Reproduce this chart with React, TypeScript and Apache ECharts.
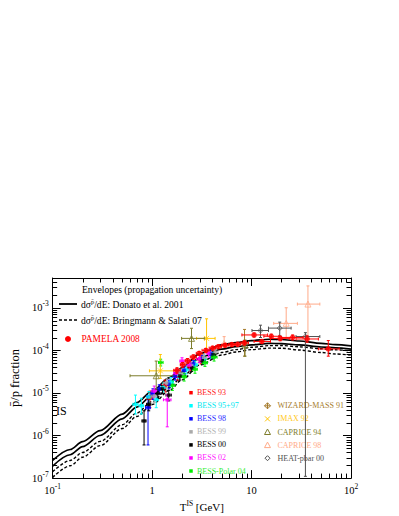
import React, { useEffect, useRef } from "react";
import * as echarts from "echarts";

const FONT = "'Liberation Serif', 'Times New Roman', Times, serif";

// ---- theoretical envelopes ----
const CURVE_ENERGY = [0.1, 0.15, 0.2, 0.3, 0.5, 0.7, 1, 1.5, 2, 3, 5, 7, 10, 15, 20, 30, 50, 70, 100];
const DONATO_UPPER = [2.6e-7, 4.7e-7, 7.2e-7, 1.3e-6, 3.17e-6, 5.9e-6, 1.1e-5, 2.3e-5, 3.9e-5, 8.3e-5, 1.35e-4, 1.53e-4, 1.69e-4, 1.82e-4, 1.8e-4, 1.66e-4, 1.46e-4, 1.36e-4, 1.27e-4];
const DONATO_LOWER = [1.92e-7, 3.53e-7, 5.47e-7, 1.0e-6, 2.47e-6, 4.66e-6, 8.76e-6, 1.83e-5, 3.1e-5, 6.6e-5, 1.07e-4, 1.22e-4, 1.35e-4, 1.46e-4, 1.44e-4, 1.34e-4, 1.2e-4, 1.14e-4, 1.07e-4];
const BRINGMANN_UPPER = [1.42e-7, 2.59e-7, 4.0e-7, 7.28e-7, 1.79e-6, 3.36e-6, 6.3e-6, 1.36e-5, 2.38e-5, 5.26e-5, 8.9e-5, 1.04e-4, 1.18e-4, 1.29e-4, 1.3e-4, 1.21e-4, 1.09e-4, 1.03e-4, 9.7e-5];
const BRINGMANN_LOWER = [1.04e-7, 1.95e-7, 3.1e-7, 5.79e-7, 1.46e-6, 2.8e-6, 5.34e-6, 1.16e-5, 2.03e-5, 4.52e-5, 7.76e-5, 9.18e-5, 1.04e-4, 1.13e-4, 1.12e-4, 1.02e-4, 8.9e-5, 8.2e-5, 7.7e-5];

// ---- data: [T (GeV), ratio, ratio low, ratio high, T low, T high] ----
type Pt = [number, number, number, number, number, number];

const PAMELA_2008: Pt[] = [
  [1.78, 3.4e-5, 2.9e-5, 3.9e-5, 1.65, 1.92],
  [2.03, 4.6e-5, 4.0e-5, 5.2e-5, 1.92, 2.15],
  [2.27, 5.7e-5, 5.0e-5, 6.4e-5, 2.15, 2.42],
  [2.6, 7.0e-5, 6.2e-5, 7.8e-5, 2.42, 2.78],
  [2.97, 8.5e-5, 7.6e-5, 9.4e-5, 2.78, 3.18],
  [3.47, 1.0e-4, 9.0e-5, 1.1e-4, 3.18, 3.75],
  [4.06, 1.13e-4, 1.02e-4, 1.24e-4, 3.75, 4.35],
  [4.64, 1.22e-4, 1.1e-4, 1.34e-4, 4.35, 5.0],
  [5.42, 1.32e-4, 1.19e-4, 1.45e-4, 5.0, 5.9],
  [6.34, 1.37e-4, 1.23e-4, 1.51e-4, 5.9, 6.8],
  [7.25, 1.39e-4, 1.25e-4, 1.54e-4, 6.8, 7.8],
  [8.47, 1.5e-4, 1.34e-4, 1.67e-4, 7.8, 9.3],
  [10.6, 2.3e-4, 2.05e-4, 2.55e-4, 8.0, 14.5],
  [12.7, 1.62e-4, 1.45e-4, 1.8e-4, 10.6, 15.5],
  [15.8, 2.14e-4, 1.9e-4, 2.4e-4, 13.3, 19.0],
  [19.4, 1.91e-4, 1.68e-4, 2.15e-4, 15.5, 24.0],
  [25.9, 2.01e-4, 1.75e-4, 2.3e-4, 20.0, 33.0],
  [36.2, 1.85e-4, 1.55e-4, 2.2e-4, 28.0, 47.0],
  [59.1, 1.08e-4, 7.3e-5, 1.7e-4, 47.0, 76.0],
];

const BESS_93: Pt[] = [
  [0.95, 7.5e-6, 4.5e-6, 1.1e-5, 0.88, 1.02],
  [1.35, 1.5e-5, 1.05e-5, 2.0e-5, 1.25, 1.45],
  [1.8, 2.6e-5, 2.0e-5, 3.3e-5, 1.7, 1.9],
  [2.4, 4.2e-5, 3.3e-5, 5.2e-5, 2.25, 2.55],
  [3.1, 6.0e-5, 4.8e-5, 7.3e-5, 2.9, 3.3],
];

const BESS_95_97: Pt[] = [
  [0.68, 5.4e-6, 3.2e-6, 8.9e-6, 0.64, 0.72],
  [0.78, 5.0e-6, 3.2e-6, 7.5e-6, 0.74, 0.82],
  [0.93, 8.0e-6, 5.8e-6, 1.08e-5, 0.88, 0.98],
  [1.1, 7.0e-6, 4.5e-6, 1.0e-5, 1.04, 1.16],
  [1.3, 1.35e-5, 1.05e-5, 1.7e-5, 1.22, 1.38],
  [1.55, 1.8e-5, 1.4e-5, 2.3e-5, 1.46, 1.64],
  [1.85, 2.7e-5, 2.2e-5, 3.3e-5, 1.75, 1.95],
  [2.2, 3.5e-5, 2.8e-5, 4.3e-5, 2.1, 2.35],
  [2.7, 4.6e-5, 3.7e-5, 5.6e-5, 2.55, 2.85],
  [3.3, 6.3e-5, 5.0e-5, 7.7e-5, 3.1, 3.5],
  [4.0, 8.2e-5, 6.4e-5, 1.02e-4, 3.75, 4.3],
];

const BESS_98: Pt[] = [
  [0.91, 4.5e-6, 6.0e-7, 8.5e-6, 0.86, 0.96],
  [1.02, 9.7e-6, 7.0e-6, 1.25e-5, 0.97, 1.07],
  [1.18, 1.24e-5, 9.5e-6, 1.55e-5, 1.12, 1.24],
  [1.48, 1.6e-5, 1.25e-5, 2.0e-5, 1.35, 1.6],
  [1.71, 2.45e-5, 2.0e-5, 3.0e-5, 1.62, 1.8],
  [2.1, 3.4e-5, 2.8e-5, 4.1e-5, 2.0, 2.2],
  [2.6, 4.8e-5, 4.0e-5, 5.7e-5, 2.45, 2.75],
  [3.2, 6.4e-5, 5.3e-5, 7.6e-5, 3.0, 3.4],
  [3.9, 8.2e-5, 6.6e-5, 1.0e-4, 3.7, 4.1],
];

const BESS_99: Pt[] = [
  [1.05, 8.5e-6, 6.0e-6, 1.15e-5, 0.98, 1.12],
  [1.4, 1.7e-5, 1.3e-5, 2.15e-5, 1.3, 1.5],
  [1.9, 2.9e-5, 2.3e-5, 3.6e-5, 1.8, 2.0],
  [2.5, 4.4e-5, 3.6e-5, 5.3e-5, 2.35, 2.65],
  [3.3, 6.8e-5, 5.6e-5, 8.1e-5, 3.1, 3.5],
  [4.3, 9.2e-5, 7.4e-5, 1.12e-4, 4.0, 4.6],
];

const BESS_00: Pt[] = [
  [0.83, 2.2e-6, 6.0e-7, 3.8e-6, 0.79, 0.87],
  [0.925, 5.4e-6, 3.8e-6, 7.2e-6, 0.88, 0.97],
  [1.14, 9.7e-6, 7.5e-6, 1.2e-5, 1.08, 1.2],
  [1.27, 1.24e-5, 9.8e-6, 1.5e-5, 1.2, 1.34],
  [1.47, 8.9e-6, 6.5e-6, 1.15e-5, 1.38, 1.56],
  [1.9, 2.5e-5, 2.0e-5, 3.0e-5, 1.8, 2.0],
  [2.5, 3.9e-5, 3.2e-5, 4.7e-5, 2.35, 2.65],
  [3.2, 5.7e-5, 4.6e-5, 6.9e-5, 3.0, 3.4],
  [4.1, 7.9e-5, 6.3e-5, 9.7e-5, 3.85, 4.35],
];

const BESS_02: Pt[] = [
  [1.05, 1.1e-5, 8.0e-6, 1.45e-5, 0.99, 1.11],
  [1.42, 6.9e-6, 1.6e-6, 9.0e-6, 1.3, 1.55],
  [1.75, 2.9e-5, 2.3e-5, 3.6e-5, 1.65, 1.85],
  [2.0, 5.6e-5, 4.6e-5, 6.7e-5, 1.9, 2.1],
  [2.4, 4.5e-5, 3.7e-5, 5.4e-5, 2.25, 2.55],
  [3.0, 6.3e-5, 5.2e-5, 7.5e-5, 2.8, 3.2],
  [3.7, 8.6e-5, 7.0e-5, 1.04e-4, 3.5, 3.95],
];

const BESS_POLAR_04: Pt[] = [
  [1.22, 5.2e-5, 4.3e-5, 6.2e-5, 1.16, 1.29],
  [1.6, 1.5e-5, 1.15e-5, 1.9e-5, 1.5, 1.7],
  [2.1, 2.4e-5, 1.9e-5, 2.9e-5, 2.0, 2.2],
  [2.7, 3.6e-5, 2.9e-5, 4.3e-5, 2.55, 2.85],
  [3.4, 5.1e-5, 4.2e-5, 6.1e-5, 3.2, 3.6],
  [4.2, 6.9e-5, 5.6e-5, 8.3e-5, 3.95, 4.5],
];

const WIZARD_MASS_91: Pt[] = [
  [8.5, 1.48e-4, 7.3e-5, 3.1e-4, 8.5, 8.5],
];

const IMAX_92: Pt[] = [
  [1.21, 3.3e-5, 2.2e-5, 8.0e-5, 0.94, 1.71],
  [3.53, 1.91e-4, 8.8e-5, 5.5e-4, 2.8, 4.3],
];

const CAPRICE_94: Pt[] = [
  [1.1, 2.53e-5, 1.24e-5, 5.6e-5, 0.6, 1.78],
  [2.49, 1.91e-4, 1.1e-4, 3.3e-4, 1.98, 3.35],
  [8.6, 1.35e-4, 7.3e-5, 1.75e-4, 8.6, 8.6],
];

const CAPRICE_98: Pt[] = [
  [5.3, 1.45e-4, 1.2e-4, 2.1e-4, 5.3, 5.3],
  [22.3, 4.3e-4, 2.0e-4, 1.0e-3, 16.7, 28.9],
  [36.9, 1.22e-3, 1.85e-4, 3.26e-3, 28.9, 48.6],
];

const HEAT_PBAR_00: Pt[] = [
  [12.3, 2.92e-4, 2.0e-4, 3.9e-4, 10.1, 14.8],
  [19.2, 3.33e-4, 2.2e-4, 4.6e-4, 14.8, 25.0],
  [34.8, 2.11e-4, 1.1e-7, 2.6e-4, 28.0, 48.6],
];

// ---- styling table ----
type Def = { name: string; data: Pt[]; color: string; text: string; marker: string; size: number; z: number };
const DEFS: Def[] = [
  { name: "BESS 93", data: BESS_93, color: "#ff0000", text: "#ff2020", marker: "rect", size: 3.5, z: 3 },
  { name: "BESS 95+97", data: BESS_95_97, color: "#00ffff", text: "#00e8f0", marker: "rect", size: 3.5, z: 3 },
  { name: "BESS 98", data: BESS_98, color: "#0000ff", text: "#2a2aff", marker: "rect", size: 3.5, z: 3 },
  { name: "BESS 99", data: BESS_99, color: "#aaaaaa", text: "#b4b4b4", marker: "rect", size: 3.5, z: 3 },
  { name: "BESS 00", data: BESS_00, color: "#000000", text: "#000000", marker: "rect", size: 3.5, z: 3 },
  { name: "BESS 02", data: BESS_02, color: "#ff00ff", text: "#ff20ff", marker: "rect", size: 3.5, z: 3 },
  { name: "BESS-Polar 04", data: BESS_POLAR_04, color: "#00ee00", text: "#33ee33", marker: "rect", size: 3.5, z: 3 },
  { name: "WIZARD-MASS 91", data: WIZARD_MASS_91, color: "#a67c2e", text: "#a67c2e", marker: "wizard", size: 6, z: 3 },
  { name: "IMAX 92", data: IMAX_92, color: "#ffc400", text: "#ffc820", marker: "cross", size: 5, z: 3 },
  { name: "CAPRICE 94", data: CAPRICE_94, color: "#7d7d2c", text: "#7d7d2c", marker: "triangle", size: 6, z: 3 },
  { name: "CAPRICE 98", data: CAPRICE_98, color: "#ffaa88", text: "#ffaa88", marker: "triangle", size: 6, z: 3 },
  { name: "HEAT-pbar 00", data: HEAT_PBAR_00, color: "#505050", text: "#505050", marker: "diamond", size: 5, z: 3 },
  { name: "PAMELA 2008", data: PAMELA_2008, color: "#ff0000", text: "#ff0000", marker: "circle", size: 5.5, z: 5 },
];

const SYMBOLS: Record<string, string> = {
  rect: "rect",
  circle: "circle",
  triangle: "triangle",
  diamond: "diamond",
  wizard: "path://M5 0L10 5L5 10L0 5ZM5 0L5 10M0 5L10 5",
  cross: "path://M0 0L10 10M10 0L0 10",
};
const OPEN = new Set(["wizard", "cross", "triangle", "diamond"]);

function errorSeries(d: Def) {
  return {
    type: "custom",
    name: d.name + " errors",
    xAxisIndex: 0,
    yAxisIndex: 0,
    z: d.z - 1,
    silent: true,
    dimensions: ["T", "r", "lo", "hi", "tlo", "thi"],
    encode: { x: 0, y: 1 },
    data: d.data,
    renderItem: (params: any, api: any) => {
      const e = api.value(0), v = api.value(1);
      const c = api.coord([e, v]);
      const yl = api.coord([e, api.value(2)])[1];
      const yh = api.coord([e, api.value(3)])[1];
      const xl = api.coord([api.value(4), v])[0];
      const xh = api.coord([api.value(5), v])[0];
      const style = { stroke: d.color, lineWidth: 1, fill: null };
      const ch: any[] = [];
      const ln = (x1: number, y1: number, x2: number, y2: number) =>
        ch.push({ type: "line", shape: { x1, y1, x2, y2 }, style });
      const cap = 1.5;
      if (Math.abs(yl - yh) > 0.5) {
        ln(c[0], yh, c[0], yl);
        ln(c[0] - cap, yh, c[0] + cap, yh);
        ln(c[0] - cap, yl, c[0] + cap, yl);
      }
      if (Math.abs(xh - xl) > 0.5) {
        ln(xl, c[1], xh, c[1]);
        ln(xl, c[1] - cap, xl, c[1] + cap);
        ln(xh, c[1] - cap, xh, c[1] + cap);
      }
      return { type: "group", children: ch };
    },
  };
}

function markerSeries(d: Def) {
  const open = OPEN.has(d.marker);
  return {
    type: "scatter",
    name: d.name,
    xAxisIndex: 0,
    yAxisIndex: 0,
    z: d.z,
    silent: true,
    symbol: SYMBOLS[d.marker],
    symbolSize: d.size,
    itemStyle: open
      ? { color: "rgba(0,0,0,0)", borderColor: d.color, borderWidth: 1 }
      : { color: d.color, borderWidth: 0 },
    data: d.data.map((p) => [p[0], p[1]]),
  };
}

function curveSeries(name: string, values: number[], dashed: boolean) {
  return {
    type: "line",
    name,
    xAxisIndex: 0,
    yAxisIndex: 0,
    z: 1,
    silent: true,
    showSymbol: false,
    symbol: "none",
    smooth: 0.3,
    smoothMonotone: "x",
    lineStyle: dashed
      ? { color: "#000", width: 1.4, type: [3, 2] }
      : { color: "#000", width: 1.7, type: "solid" },
    data: CURVE_ENERGY.map((e, i) => [e, values[i]]),
  };
}

// minor log ticks (2..9 per decade) drawn through the axes' scales
function minorTickSeries() {
  const data: number[][] = [];
  for (let n = -1; n <= 1; n++) for (let k = 2; k <= 9; k++) data.push([k * Math.pow(10, n), 1e-5, 0]);
  for (let n = -7; n <= -3; n++)
    for (let k = 2; k <= 9; k++) {
      const v = k * Math.pow(10, n);
      if (v < 4.95e-3) data.push([1, v, 1]);
    }
  const L = 4.5;
  return {
    type: "custom",
    name: "minor ticks",
    xAxisIndex: 0,
    yAxisIndex: 0,
    z: 6,
    silent: true,
    encode: { x: 0, y: 1 },
    data,
    renderItem: (params: any, api: any) => {
      const cs = params.coordSys;
      const st = { stroke: "#000", lineWidth: 1 };
      if (api.value(2) === 0) {
        const px = Math.round(api.coord([api.value(0), 1e-5])[0]) + 0.5;
        const yb = cs.y + cs.height;
        return {
          type: "group",
          children: [
            { type: "line", shape: { x1: px, y1: yb, x2: px, y2: yb - L }, style: st },
            { type: "line", shape: { x1: px, y1: cs.y, x2: px, y2: cs.y + L }, style: st },
          ],
        };
      }
      const py = Math.round(api.coord([1, api.value(1)])[1]) + 0.5;
      const xr = cs.x + cs.width;
      return {
        type: "group",
        children: [
          { type: "line", shape: { x1: cs.x, y1: py, x2: cs.x + L, y2: py }, style: st },
          { type: "line", shape: { x1: xr, y1: py, x2: xr - L, y2: py }, style: st },
        ],
      };
    },
  };
}

const labelRich = {
  b: { fontSize: 10.5, fontFamily: FONT, color: "#000", lineHeight: 16 },
  s: { fontSize: 7.5, fontFamily: FONT, color: "#000", lineHeight: 8, padding: [0, 0, 8, 0] },
};

function powLabel(v: number) {
  const e = Math.round(Math.log10(v));
  if (e === 0) return "{b|1}";
  if (e === 1) return "{b|10}";
  return `{b|10}{s|${e}}`;
}

const axisLine = { show: true, onZero: false, lineStyle: { color: "#000", width: 1 } };
const majorTick = { show: true, inside: true, length: 8, lineStyle: { color: "#000", width: 1 } };

function legendMarker(d: Def, cx: number, cy: number): any[] {
  const s = { stroke: d.color, lineWidth: 1, fill: null };
  switch (d.marker) {
    case "rect":
      return [{ type: "rect", shape: { x: cx - 1.75, y: cy - 1.75, width: 3.5, height: 3.5 }, style: { fill: d.color } }];
    case "circle":
      return [{ type: "circle", shape: { cx, cy, r: 3 }, style: { fill: d.color } }];
    case "wizard":
      return [
        { type: "polygon", shape: { points: [[cx, cy - 3], [cx + 3, cy], [cx, cy + 3], [cx - 3, cy]] }, style: s },
        { type: "line", shape: { x1: cx, y1: cy - 3, x2: cx, y2: cy + 3 }, style: s },
        { type: "line", shape: { x1: cx - 3, y1: cy, x2: cx + 3, y2: cy }, style: s },
      ];
    case "cross":
      return [
        { type: "line", shape: { x1: cx - 2.5, y1: cy - 2.5, x2: cx + 2.5, y2: cy + 2.5 }, style: s },
        { type: "line", shape: { x1: cx + 2.5, y1: cy - 2.5, x2: cx - 2.5, y2: cy + 2.5 }, style: s },
      ];
    case "triangle":
      return [{ type: "polygon", shape: { points: [[cx, cy - 3], [cx + 3, cy + 2.5], [cx - 3, cy + 2.5]] }, style: s }];
    case "diamond":
      return [{ type: "polygon", shape: { points: [[cx, cy - 2.5], [cx + 2.5, cy], [cx, cy + 2.5], [cx - 2.5, cy]] }, style: s }];
  }
  return [];
}

function legendText(text: string, x: number, y: number, color: string, size: number, rich?: any) {
  return {
    type: "text",
    x,
    y,
    silent: true,
    style: {
      text,
      fill: color,
      fontSize: size,
      fontFamily: FONT,
      textAlign: "left",
      textVerticalAlign: "middle",
      align: "left",
      verticalAlign: "middle",
      ...(rich ? { rich } : {}),
    },
  };
}

function buildGraphic() {
  const g: any[] = [];
  const top = 9.6;
  const supRich = {
    t: { fontSize: top, fontFamily: FONT, lineHeight: 12 },
    u: { fontSize: 6.5, fontFamily: FONT, lineHeight: 6, padding: [0, 0, 6, 0] },
  };
  g.push(legendText("Envelopes (propagation uncertainty)", 82, 289, "#000", top));
  g.push({ type: "line", silent: true, shape: { x1: 59, y1: 304, x2: 77, y2: 304 }, style: { stroke: "#000", lineWidth: 1.8 } });
  g.push(legendText("{t|d\u03c3}{u|p\u0304}{t|/dE: Donato et al. 2001}", 81, 304, "#000", top, supRich));
  g.push({ type: "line", silent: true, shape: { x1: 59, y1: 320, x2: 77, y2: 320 }, style: { stroke: "#000", lineWidth: 1.5, lineDash: [3, 2] } });
  g.push(legendText("{t|d\u03c3}{u|p\u0304}{t|/dE: Bringmann & Salati 07}", 81, 320, "#000", top, supRich));
  const pam = DEFS[DEFS.length - 1];
  g.push(...legendMarker(pam, 68, 339).map((e) => ({ ...e, silent: true })));
  g.push(legendText(pam.name, 81.5, 339, pam.text, 9.4));

  g.push(legendText("IS", 56, 411, "#000", 12));

  const leftNames = ["BESS 93", "BESS 95+97", "BESS 98", "BESS 99", "BESS 00", "BESS 02", "BESS-Polar 04"];
  const rightNames = ["WIZARD-MASS 91", "IMAX 92", "CAPRICE 94", "CAPRICE 98", "HEAT-pbar 00"];
  leftNames.forEach((n, i) => {
    const d = DEFS.find((x) => x.name === n)!;
    const y = 392.7 + i * 13.05;
    g.push(...legendMarker(d, 191, y).map((e) => ({ ...e, silent: true })));
    g.push(legendText(d.name, 197, y, d.text, 8));
  });
  rightNames.forEach((n, i) => {
    const d = DEFS.find((x) => x.name === n)!;
    const y = 405.8 + i * 13.1;
    g.push(...legendMarker(d, 267.5, y).map((e) => ({ ...e, silent: true })));
    g.push(legendText(d.name, 277.5, y, d.text, 8));
  });
  return g;
}

export default function App() {
  const ref = useRef<HTMLDivElement>(null);
  useEffect(() => {
    if (!ref.current) return;
    const chart = echarts.init(ref.current, undefined, { renderer: "svg" });
    const option: any = {
      animation: false,
      backgroundColor: "#ffffff",
      grid: { left: 41, top: 278, width: 310, height: 214, containLabel: false },
      xAxis: [
        {
          type: "log",
          logBase: 10,
          min: 0.1,
          max: 100,
          position: "bottom",
          axisLine,
          axisTick: majorTick,
          splitLine: { show: false },
          axisLabel: { show: true, margin: 4, formatter: powLabel, rich: labelRich },
          name: "{t|T}{u|IS}{t| [GeV]}",
          nameLocation: "middle",
          nameGap: 8,
          nameTextStyle: {
            color: "#000",
            rich: {
              t: { fontSize: 11, fontFamily: FONT, color: "#000", lineHeight: 16 },
              u: { fontSize: 7.5, fontFamily: FONT, color: "#000", lineHeight: 8, padding: [0, 0, 8, 0] },
            },
          },
        },
        {
          type: "log",
          logBase: 10,
          min: 0.1,
          max: 100,
          position: "top",
          axisLine,
          axisTick: majorTick,
          splitLine: { show: false },
          axisLabel: { show: false },
        },
      ],
      yAxis: [
        {
          type: "log",
          logBase: 10,
          min: 1e-7,
          max: 5e-3,
          position: "left",
          axisLine,
          axisTick: majorTick,
          splitLine: { show: false },
          axisLabel: { show: true, margin: 4, formatter: powLabel, rich: labelRich, showMaxLabel: false },
          name: "p\u0304/p fraction",
          nameLocation: "middle",
          nameRotate: 90,
          nameGap: 25,
          nameTextStyle: { color: "#000", fontSize: 12.5, fontFamily: FONT },
        },
        {
          type: "log",
          logBase: 10,
          min: 1e-7,
          max: 5e-3,
          position: "right",
          axisLine,
          axisTick: majorTick,
          splitLine: { show: false },
          axisLabel: { show: false },
        },
      ],
      series: [
        curveSeries("Donato et al. 2001 (upper)", DONATO_UPPER, false),
        curveSeries("Donato et al. 2001 (lower)", DONATO_LOWER, false),
        curveSeries("Bringmann & Salati 07 (upper)", BRINGMANN_UPPER, true),
        curveSeries("Bringmann & Salati 07 (lower)", BRINGMANN_LOWER, true),
        ...DEFS.map(errorSeries),
        ...DEFS.map(markerSeries),
        minorTickSeries(),
      ],
      graphic: buildGraphic(),
    };
    chart.setOption(option);
    return () => chart.dispose();
  }, []);
  return (
    <div
      ref={ref}
      style={{ position: "absolute", left: 0, top: 0, width: 399, height: 516, background: "#fff" }}
    />
  );
}
